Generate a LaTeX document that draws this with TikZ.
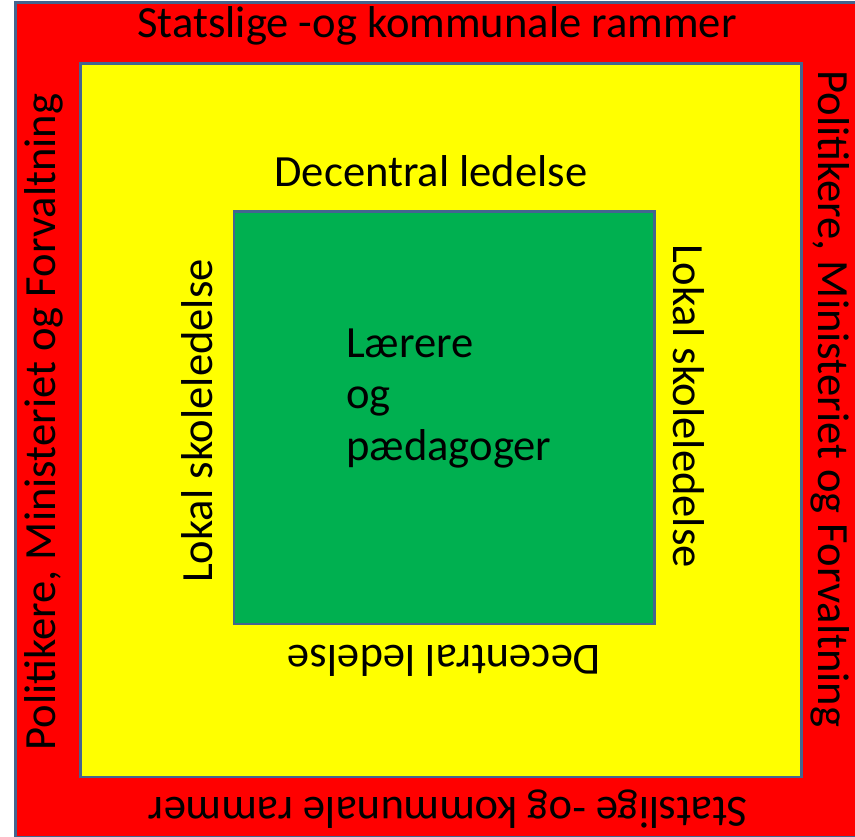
\documentclass[tikz,border=0pt]{standalone}
\usepackage{fontspec}
\setmainfont{Carlito}
\usetikzlibrary{positioning}
\definecolor{frameline}{HTML}{44658F}
\definecolor{rammerred}{HTML}{FF0000}
\definecolor{ledelseyellow}{HTML}{FFFF00}
\definecolor{laerergreen}{HTML}{00B050}

\begin{document}
\begin{tikzpicture}[x=1pt, y=-1pt,
				box/.style={draw=frameline, line width=2.6pt, inner sep=0pt, anchor=north west},
				label/.style={font=\fontsize{44.6}{51.5}\selectfont, inner sep=0pt, anchor=base}
			]
			\useasboundingbox (0,0) rectangle (855,837);
			\clip (0,0) rectangle (855,837);
			\node[box, fill=rammerred, minimum width=846pt, minimum height=834.5pt] (rammer) at (14,1) {};
			\node[box, fill=ledelseyellow, minimum width=721pt, minimum height=713pt] (ledelse) at (79,62.5) {};
			\node[box, fill=laerergreen, minimum width=420.5pt, minimum height=412pt] (laerere) at (232.5,210.5) {};
			% outer frame
			\node[label] (rammertop) at (437,38) {Statslige -og kommunale rammer};
			\node[label, rotate=180] (rammerbottom) at (448,797) {Statslige -og kommunale rammer};
			\node[label, rotate=90] (politikleft) at (55,422) {Politikere, Ministeriet og Forvaltning};
			\node[label, rotate=-90] (politikright) at (818,399) {Politikere, Ministeriet og Forvaltning};
			% middle frame
			\node[label] (decentraltop) at (431,187) {Decentral ledelse};
			\node[label, rotate=180] (decentralbottom) at (444,645) {Decentral ledelse};
			\node[label, rotate=90] (lokalleft) at (212,421) {Lokal skoleledelse};
			\node[label, rotate=-90] (lokalright) at (673,406) {Lokal skoleledelse};
			% core
			\node[label, anchor=base west, align=left] (laererlabel) at (346,460) {Lærere\\og\\pædagoger};
			\end{tikzpicture}
\end{document}
